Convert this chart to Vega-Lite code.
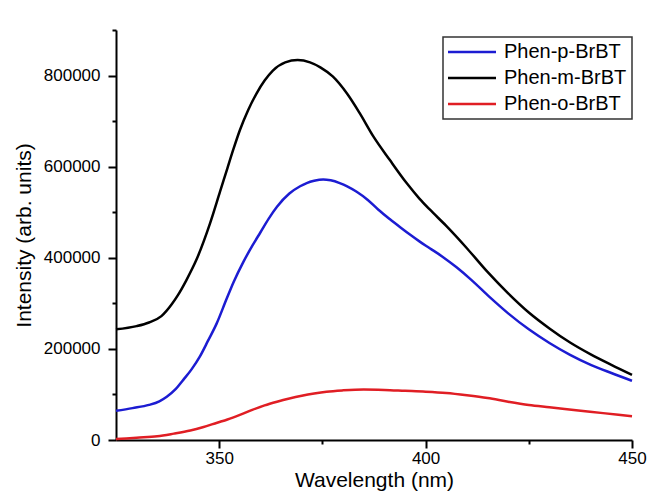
{
  "$schema": "https://vega.github.io/schema/vega-lite/v6.json",
  "width": 516,
  "height": 410,
  "autosize": {"type": "none"},
  "padding": {"left": 116, "top": 30, "right": 22, "bottom": 54},
  "background": "white",
  "config": {
    "view": {"stroke": null},
    "font": "Liberation Sans",
    "axis": {
      "domainColor": "black",
      "domainWidth": 2,
      "tickColor": "black",
      "tickWidth": 2,
      "labelColor": "black",
      "labelFont": "Liberation Sans",
      "labelFontSize": 17,
      "titleFont": "Liberation Sans",
      "titleFontSize": 21,
      "titleFontWeight": "normal",
      "titleColor": "black",
      "grid": false
    }
  },
  "data": {
    "values": [
      {"sample": "Phen-m-BrBT", "wl": 325, "intensity": 243000},
      {"sample": "Phen-m-BrBT", "wl": 330, "intensity": 250000},
      {"sample": "Phen-m-BrBT", "wl": 333, "intensity": 258000},
      {"sample": "Phen-m-BrBT", "wl": 336, "intensity": 272000},
      {"sample": "Phen-m-BrBT", "wl": 338.5, "intensity": 298000},
      {"sample": "Phen-m-BrBT", "wl": 340, "intensity": 318000},
      {"sample": "Phen-m-BrBT", "wl": 342, "intensity": 350000},
      {"sample": "Phen-m-BrBT", "wl": 344.5, "intensity": 396000},
      {"sample": "Phen-m-BrBT", "wl": 347.8, "intensity": 476000},
      {"sample": "Phen-m-BrBT", "wl": 350.2, "intensity": 545000},
      {"sample": "Phen-m-BrBT", "wl": 352, "intensity": 597000},
      {"sample": "Phen-m-BrBT", "wl": 353.5, "intensity": 640000},
      {"sample": "Phen-m-BrBT", "wl": 355, "intensity": 680000},
      {"sample": "Phen-m-BrBT", "wl": 357, "intensity": 724000},
      {"sample": "Phen-m-BrBT", "wl": 359, "intensity": 760000},
      {"sample": "Phen-m-BrBT", "wl": 361, "intensity": 789000},
      {"sample": "Phen-m-BrBT", "wl": 363, "intensity": 811000},
      {"sample": "Phen-m-BrBT", "wl": 366, "intensity": 829000},
      {"sample": "Phen-m-BrBT", "wl": 369, "intensity": 834000},
      {"sample": "Phen-m-BrBT", "wl": 372, "intensity": 829000},
      {"sample": "Phen-m-BrBT", "wl": 374.5, "intensity": 818000},
      {"sample": "Phen-m-BrBT", "wl": 377.5, "intensity": 798000},
      {"sample": "Phen-m-BrBT", "wl": 381, "intensity": 760000},
      {"sample": "Phen-m-BrBT", "wl": 384, "intensity": 718000},
      {"sample": "Phen-m-BrBT", "wl": 387.3, "intensity": 667000},
      {"sample": "Phen-m-BrBT", "wl": 391.3, "intensity": 615000},
      {"sample": "Phen-m-BrBT", "wl": 395.4, "intensity": 564000},
      {"sample": "Phen-m-BrBT", "wl": 398.5, "intensity": 530000},
      {"sample": "Phen-m-BrBT", "wl": 401, "intensity": 506000},
      {"sample": "Phen-m-BrBT", "wl": 405, "intensity": 470000},
      {"sample": "Phen-m-BrBT", "wl": 410, "intensity": 421000},
      {"sample": "Phen-m-BrBT", "wl": 415, "intensity": 369000},
      {"sample": "Phen-m-BrBT", "wl": 420, "intensity": 322000},
      {"sample": "Phen-m-BrBT", "wl": 425, "intensity": 280000},
      {"sample": "Phen-m-BrBT", "wl": 430, "intensity": 245000},
      {"sample": "Phen-m-BrBT", "wl": 435, "intensity": 214000},
      {"sample": "Phen-m-BrBT", "wl": 440, "intensity": 188000},
      {"sample": "Phen-m-BrBT", "wl": 445, "intensity": 165000},
      {"sample": "Phen-m-BrBT", "wl": 450, "intensity": 143000},

      {"sample": "Phen-p-BrBT", "wl": 325, "intensity": 64000},
      {"sample": "Phen-p-BrBT", "wl": 329, "intensity": 70000},
      {"sample": "Phen-p-BrBT", "wl": 333, "intensity": 77000},
      {"sample": "Phen-p-BrBT", "wl": 335.5, "intensity": 85000},
      {"sample": "Phen-p-BrBT", "wl": 337.3, "intensity": 95000},
      {"sample": "Phen-p-BrBT", "wl": 339.5, "intensity": 112000},
      {"sample": "Phen-p-BrBT", "wl": 341.3, "intensity": 132000},
      {"sample": "Phen-p-BrBT", "wl": 343.3, "intensity": 155000},
      {"sample": "Phen-p-BrBT", "wl": 345.3, "intensity": 183000},
      {"sample": "Phen-p-BrBT", "wl": 347.3, "intensity": 218000},
      {"sample": "Phen-p-BrBT", "wl": 349.4, "intensity": 256000},
      {"sample": "Phen-p-BrBT", "wl": 351.8, "intensity": 310000},
      {"sample": "Phen-p-BrBT", "wl": 353.5, "intensity": 347000},
      {"sample": "Phen-p-BrBT", "wl": 355.8, "intensity": 390000},
      {"sample": "Phen-p-BrBT", "wl": 358, "intensity": 426000},
      {"sample": "Phen-p-BrBT", "wl": 360, "intensity": 456000},
      {"sample": "Phen-p-BrBT", "wl": 362, "intensity": 486000},
      {"sample": "Phen-p-BrBT", "wl": 364, "intensity": 512000},
      {"sample": "Phen-p-BrBT", "wl": 367, "intensity": 541000},
      {"sample": "Phen-p-BrBT", "wl": 369.6, "intensity": 557000},
      {"sample": "Phen-p-BrBT", "wl": 371.2, "intensity": 564000},
      {"sample": "Phen-p-BrBT", "wl": 373, "intensity": 569000},
      {"sample": "Phen-p-BrBT", "wl": 375.2, "intensity": 572000},
      {"sample": "Phen-p-BrBT", "wl": 377, "intensity": 570000},
      {"sample": "Phen-p-BrBT", "wl": 379.2, "intensity": 564000},
      {"sample": "Phen-p-BrBT", "wl": 381, "intensity": 557000},
      {"sample": "Phen-p-BrBT", "wl": 383.3, "intensity": 545000},
      {"sample": "Phen-p-BrBT", "wl": 386, "intensity": 527000},
      {"sample": "Phen-p-BrBT", "wl": 388.5, "intensity": 506000},
      {"sample": "Phen-p-BrBT", "wl": 391.3, "intensity": 485000},
      {"sample": "Phen-p-BrBT", "wl": 394, "intensity": 466000},
      {"sample": "Phen-p-BrBT", "wl": 396.2, "intensity": 451000},
      {"sample": "Phen-p-BrBT", "wl": 398.5, "intensity": 436000},
      {"sample": "Phen-p-BrBT", "wl": 401, "intensity": 421000},
      {"sample": "Phen-p-BrBT", "wl": 404, "intensity": 403000},
      {"sample": "Phen-p-BrBT", "wl": 407.5, "intensity": 379000},
      {"sample": "Phen-p-BrBT", "wl": 411, "intensity": 352000},
      {"sample": "Phen-p-BrBT", "wl": 415.6, "intensity": 313000},
      {"sample": "Phen-p-BrBT", "wl": 420, "intensity": 278000},
      {"sample": "Phen-p-BrBT", "wl": 425, "intensity": 243000},
      {"sample": "Phen-p-BrBT", "wl": 430, "intensity": 213000},
      {"sample": "Phen-p-BrBT", "wl": 435, "intensity": 187000},
      {"sample": "Phen-p-BrBT", "wl": 440, "intensity": 165000},
      {"sample": "Phen-p-BrBT", "wl": 445, "intensity": 147000},
      {"sample": "Phen-p-BrBT", "wl": 450, "intensity": 130000},

      {"sample": "Phen-o-BrBT", "wl": 325, "intensity": 2000},
      {"sample": "Phen-o-BrBT", "wl": 330, "intensity": 5000},
      {"sample": "Phen-o-BrBT", "wl": 335, "intensity": 8000},
      {"sample": "Phen-o-BrBT", "wl": 339, "intensity": 14000},
      {"sample": "Phen-o-BrBT", "wl": 343, "intensity": 21000},
      {"sample": "Phen-o-BrBT", "wl": 346, "intensity": 28000},
      {"sample": "Phen-o-BrBT", "wl": 349.5, "intensity": 38000},
      {"sample": "Phen-o-BrBT", "wl": 352, "intensity": 45000},
      {"sample": "Phen-o-BrBT", "wl": 355, "intensity": 55000},
      {"sample": "Phen-o-BrBT", "wl": 358, "intensity": 66000},
      {"sample": "Phen-o-BrBT", "wl": 361, "intensity": 76000},
      {"sample": "Phen-o-BrBT", "wl": 364, "intensity": 84000},
      {"sample": "Phen-o-BrBT", "wl": 367, "intensity": 91000},
      {"sample": "Phen-o-BrBT", "wl": 370, "intensity": 97000},
      {"sample": "Phen-o-BrBT", "wl": 373, "intensity": 102000},
      {"sample": "Phen-o-BrBT", "wl": 376, "intensity": 106000},
      {"sample": "Phen-o-BrBT", "wl": 380, "intensity": 109000},
      {"sample": "Phen-o-BrBT", "wl": 385, "intensity": 111000},
      {"sample": "Phen-o-BrBT", "wl": 390, "intensity": 110000},
      {"sample": "Phen-o-BrBT", "wl": 395, "intensity": 108000},
      {"sample": "Phen-o-BrBT", "wl": 400, "intensity": 106000},
      {"sample": "Phen-o-BrBT", "wl": 405, "intensity": 103000},
      {"sample": "Phen-o-BrBT", "wl": 410, "intensity": 98000},
      {"sample": "Phen-o-BrBT", "wl": 415, "intensity": 92000},
      {"sample": "Phen-o-BrBT", "wl": 420, "intensity": 84000},
      {"sample": "Phen-o-BrBT", "wl": 425, "intensity": 77000},
      {"sample": "Phen-o-BrBT", "wl": 430, "intensity": 72000},
      {"sample": "Phen-o-BrBT", "wl": 437, "intensity": 65000},
      {"sample": "Phen-o-BrBT", "wl": 443, "intensity": 59000},
      {"sample": "Phen-o-BrBT", "wl": 450, "intensity": 52000}
    ]
  },
  "mark": {"type": "line", "strokeWidth": 2.5, "interpolate": "monotone"},
  "encoding": {
    "x": {
      "field": "wl",
      "type": "quantitative",
      "scale": {"domain": [325, 450], "nice": false, "zero": false},
      "axis": {
        "title": "Wavelength (nm)",
        "values": [350, 375, 400, 425, 450],
        "format": "d",
        "labelExpr": "datum.value % 50 === 0 ? datum.label : ''",
        "tickSize": {"condition": {"test": "datum.value % 50 === 0", "value": 8}, "value": 4},
        "labelPadding": 2,
        "titlePadding": 3,
        "labelFlush": false
      }
    },
    "y": {
      "field": "intensity",
      "type": "quantitative",
      "scale": {"domain": [0, 900000], "nice": false},
      "axis": {
        "title": "Intensity (arb. units)",
        "values": [0, 100000, 200000, 300000, 400000, 500000, 600000, 700000, 800000, 900000],
        "format": "d",
        "labelExpr": "datum.value % 200000 === 0 && datum.value < 900000 ? datum.label : ''",
        "tickSize": {"condition": {"test": "datum.value % 200000 === 0 && datum.value < 900000", "value": 8}, "value": 4},
        "labelPadding": 8,
        "titlePadding": 9,
        "labelFlush": false
      }
    },
    "color": {
      "field": "sample",
      "type": "nominal",
      "scale": {
        "domain": ["Phen-p-BrBT", "Phen-m-BrBT", "Phen-o-BrBT"],
        "range": ["#1c1cd2", "#000000", "#e01e24"]
      },
      "legend": {
        "title": null,
        "orient": "none",
        "legendX": 327,
        "legendY": 7,
        "padding": 5,
        "strokeColor": "#333333",
        "fillColor": "white",
        "symbolType": "M-3,0H3",
        "symbolSize": 256,
        "symbolStrokeWidth": 2.5,
        "symbolOffset": 14,
        "labelOffset": 22,
        "labelFontSize": 20,
        "labelFont": "Liberation Sans",
        "labelColor": "black",
        "rowPadding": 6,
        "encode": {"legend": {"update": {"strokeWidth": {"value": 1.5}}}}
      }
    }
  }
}
